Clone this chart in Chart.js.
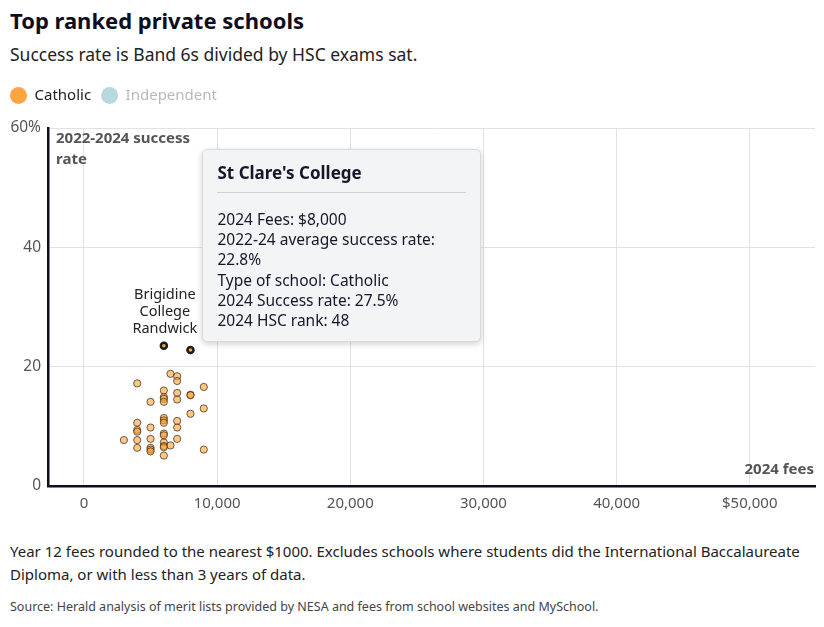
<!DOCTYPE html>
<html>
<head>
<meta charset="utf-8">
<script src="https://cdn.jsdelivr.net/npm/chart.js@4.4.1/dist/chart.umd.min.js"></script>
<style>
  body { margin: 0; background: #fff; font-family: "Noto Sans", sans-serif; color: #222; }
  #wrap { position: relative; width: 824px; height: 627px; overflow: hidden; }
  h1 { position: absolute; left: 10px; top: 5px; margin: 0; font-size: 22px; font-weight: 700; color: #0d0d1f; }
  .sub { position: absolute; left: 10px; top: 42px; font-size: 17.5px; color: #222; }
  #box { position: absolute; left: 0; top: 74px; width: 824px; height: 450px; }
  .note { position: absolute; left: 10px; top: 540px; font-size: 15px; line-height: 23px; color: #222; }
  .src { position: absolute; left: 10px; top: 598px; font-size: 12.5px; color: #444; }
  #tip { position: absolute; width: 249px; padding: 10px 14px 11px 14px; background: #f3f4f6;
         border: 1px solid #d9dadd; border-radius: 5px; box-shadow: 0 2px 6px rgba(0,0,0,0.18);
         pointer-events: none; color: #16162a; }
  #tip .t { font-size: 17px; font-weight: 700; line-height: 26px; padding-bottom: 6px;
            border-bottom: 1px solid #cfd0dc; margin-bottom: 16px; }
  #tip .b { font-size: 15.5px; line-height: 20.2px; }
</style>
</head>
<body>
<div id="wrap">
  <h1>Top ranked private schools</h1>
  <div class="sub">Success rate is Band 6s divided by HSC exams sat.</div>
  <div id="box"><canvas id="scatter" width="824" height="450"></canvas></div>
  <div class="note">Year 12 fees rounded to the nearest $1000. Excludes schools where students did the International Baccalaureate<br>Diploma, or with less than 3 years of data.</div>
  <div class="src">Source: Herald analysis of merit lists provided by NESA and fees from school websites and MySchool.</div>
</div>
<script>
// 2024 fees ($) and 2022-2024 success rate (%) for Catholic schools
const catholicNames = ["Brigidine College Randwick", "St Clare's College"];
const catholicFees = [6000, 8000, 6500, 7000, 7000, 4000, 9000, 8000, 8000, 6000,
  7000, 6000, 6000, 6000, 5000, 7000, 9000, 8000, 6000, 6000,
  6000, 7000, 4000, 4000, 4000, 5000, 6000, 6000, 7000, 7000,
  3000, 4000, 5000, 6000, 6000, 6000, 6500, 4000, 5000, 5000,
  5000, 6000, 9000];
const catholicRate = [23.5, 22.8, 18.8, 18.4, 17.6, 17.2, 16.6, 15.3, 15.2, 16.0,
  15.6, 14.9, 14.6, 14.1, 14.1, 14.5, 13.0, 12.1, 11.4, 11.0,
  10.6, 10.9, 10.6, 9.4, 9.1, 9.8, 8.8, 8.5, 9.8, 7.9,
  7.7, 7.7, 7.9, 7.3, 6.7, 6.5, 6.8, 6.4, 6.4, 6.1,
  5.8, 5.1, 6.1];
const independentFees = [];
const independentRate = [];
const schoolDetails = { "St Clare's College": { rate2024: 27.5, rank: 48 } };
const labelledSchool = "Brigidine College Randwick";
const tooltipSchool = "St Clare's College";

const xTicks = [0, 10000, 20000, 30000, 40000, 50000];
const yTicks = [0, 20, 40, 60];

const ORANGE = "#ffa53f";
const BLUE = "#b7d8dc";
const isFeatured = i => !!catholicNames[i];

Chart.defaults.font.family = "'Noto Sans', sans-serif";

// extra room under the legend
const legendGap = {
  id: "legendGap",
  beforeInit(chart) {
    const fit = chart.legend.fit;
    chart.legend.fit = function () {
      fit.call(this);
      this.height += 15;
    };
  }
};

const annotations = {
  id: "annotations",
  afterDatasetsDraw(chart) {
    const { ctx, chartArea } = chart;
    ctx.save();
    ctx.font = "bold 15px 'Noto Sans', sans-serif";
    ctx.fillStyle = "#555";
    ctx.textBaseline = "middle";
    ctx.textAlign = "left";
    ctx.fillText("2022-2024 success", chartArea.left + 8, chartArea.top + 11);
    ctx.fillText("rate", chartArea.left + 8, chartArea.top + 32);
    ctx.textAlign = "right";
    ctx.fillText("2024 fees", chartArea.right - 1, chartArea.bottom - 16);

    const i = catholicNames.indexOf(labelledSchool);
    const pt = chart.getDatasetMeta(0).data[i];
    ctx.font = "14.5px 'Noto Sans', sans-serif";
    ctx.fillStyle = "#222";
    ctx.textAlign = "center";
    const lines = labelledSchool.split(" ");
    lines.forEach((s, k) => {
      ctx.fillText(s, pt.x + 1, pt.y - 17 - (lines.length - 1 - k) * 17);
    });
    ctx.restore();
  }
};

function externalTip(context) {
  const { chart, tooltip } = context;
  let el = document.getElementById("tip");
  if (!el) {
    el = document.createElement("div");
    el.id = "tip";
    chart.canvas.parentNode.appendChild(el);
  }
  if (tooltip.opacity === 0) { el.style.display = "none"; return; }
  const body = tooltip.body.map(b => b.lines).flat();
  el.innerHTML = '<div class="t">' + tooltip.title.join(" ") + '</div><div class="b">' +
    body.map(s => "<div>" + s + "</div>").join("") + "</div>";
  el.style.display = "block";
  el.style.left = (chart.canvas.offsetLeft + tooltip.caretX + 12) + "px";
  el.style.top = (chart.canvas.offsetTop + tooltip.caretY - el.offsetHeight - 8) + "px";
}

const chart = new Chart(document.getElementById("scatter"), {
  type: "scatter",
  data: {
    datasets: [{
      label: "Catholic",
      data: catholicFees.map((f, i) => ({ x: f, y: catholicRate[i] })),
      backgroundColor: ctx => isFeatured(ctx.dataIndex) ? ORANGE : "rgba(254,162,52,0.6)",
      borderColor: ctx => isFeatured(ctx.dataIndex) ? "#1b1b1b" : "rgba(60,45,30,0.75)",
      borderWidth: ctx => isFeatured(ctx.dataIndex) ? 2.5 : 1,
      pointRadius: ctx => isFeatured(ctx.dataIndex) ? 3 : 3.6
    }, {
      label: "Independent",
      data: independentFees.map((f, i) => ({ x: f, y: independentRate[i] })),
      backgroundColor: BLUE,
      borderColor: "#555",
      borderWidth: 1,
      pointRadius: 3.6,
      hidden: true
    }]
  },
  options: {
    responsive: false,
    animation: false,
    events: [],
    layout: { padding: { left: 0, right: 9, top: 4, bottom: 0 } },
    scales: {
      x: {
        type: "linear",
        min: -2700,
        max: 54900,
        afterBuildTicks: s => { s.ticks = xTicks.map(v => ({ value: v })); },
        afterFit: s => { s.height = 38; },
        grid: { color: "#e2e2e2", drawTicks: false },
        border: { display: true, color: "#0d0d1f", width: 2.5 },
        ticks: {
          padding: 9,
          color: "#555",
          font: { size: 15 },
          callback: v => (v === 50000 ? "$" : "") + v.toLocaleString("en-US")
        }
      },
      y: {
        min: 0,
        max: 60,
        afterBuildTicks: s => { s.ticks = yTicks.map(v => ({ value: v })); },
        afterFit: s => { s.width = 48; },
        grid: { color: "#e2e2e2", drawTicks: false },
        border: { display: true, color: "#0d0d1f", width: 2.5 },
        ticks: {
          padding: 7,
          color: "#555",
          font: { size: 15.5 },
          callback: v => v === 60 ? "60%" : String(v)
        }
      }
    },
    plugins: {
      legend: {
        position: "top",
        align: "start",
        labels: {
          usePointStyle: true,
          pointStyle: "circle",
          boxHeight: 12,
          boxWidth: 17,
          pointStyleWidth: 17,
          padding: 10,
          font: { size: 15 },
          generateLabels: ch => ch.data.datasets.map((d, i) => ({
            text: d.label,
            fillStyle: i === 0 ? ORANGE : BLUE,
            strokeStyle: i === 0 ? ORANGE : BLUE,
            lineWidth: 0,
            pointStyle: "circle",
            hidden: false,
            fontColor: ch.isDatasetVisible(i) ? "#222" : "#b9b9b9",
            datasetIndex: i
          }))
        }
      },
      tooltip: {
        enabled: false,
        external: externalTip,
        callbacks: {
          title: items => catholicNames[items[0].dataIndex] || "",
          label: item => {
            const name = catholicNames[item.dataIndex] || "";
            const d = schoolDetails[name] || {};
            return [
              "2024 Fees: $" + item.parsed.x.toLocaleString("en-US"),
              "2022-24 average success rate: " + item.parsed.y.toFixed(1) + "%",
              "Type of school: " + item.dataset.label,
              "2024 Success rate: " + (d.rate2024 != null ? d.rate2024.toFixed(1) + "%" : "n/a"),
              "2024 HSC rank: " + (d.rank != null ? d.rank : "n/a")
            ];
          }
        }
      }
    }
  },
  plugins: [legendGap, annotations]
});

const tipIdx = catholicNames.indexOf(tooltipSchool);
const tipPt = chart.getDatasetMeta(0).data[tipIdx];
chart.tooltip.setActiveElements([{ datasetIndex: 0, index: tipIdx }], { x: tipPt.x, y: tipPt.y });
chart.update();
</script>
</body>
</html>
